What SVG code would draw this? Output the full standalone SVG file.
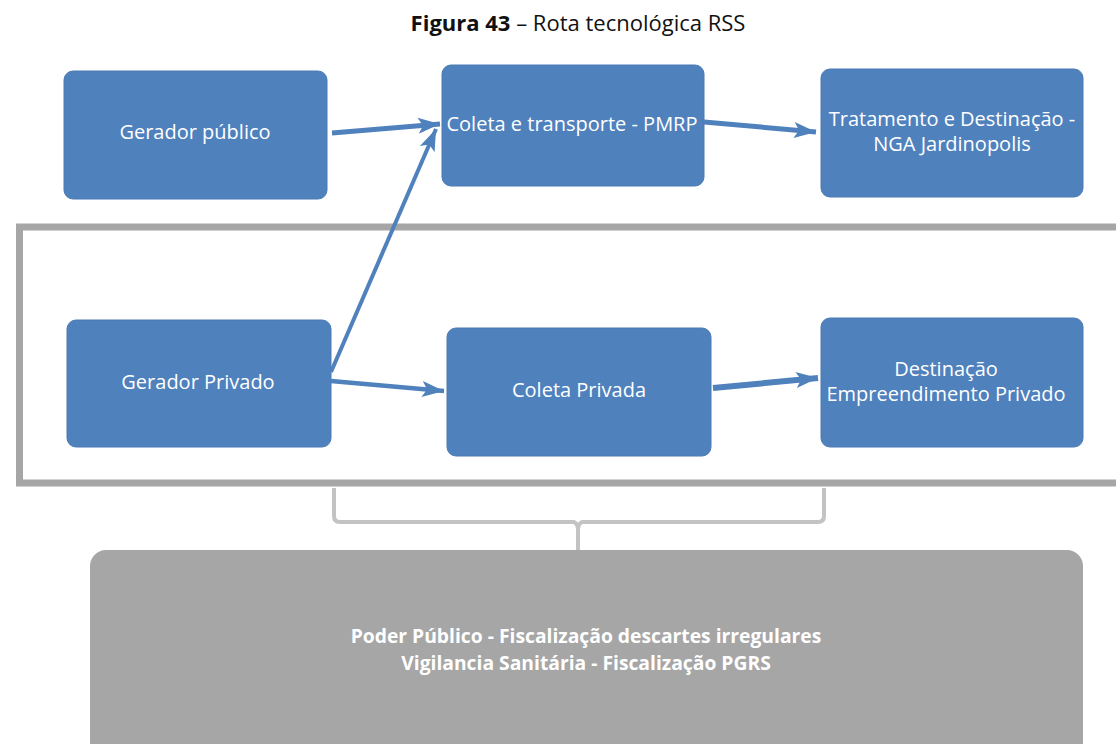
<svg xmlns="http://www.w3.org/2000/svg" width="1116" height="744" viewBox="0 0 1116 744">
<style>
.node{fill:#4f81bd;stroke:#4a7ab3;stroke-width:1}
.nt{font-family:"Open Sans","Liberation Sans",sans-serif;font-size:20px;fill:#ffffff;text-anchor:middle}
.bt{font-family:"Open Sans","Liberation Sans",sans-serif;font-size:19.3px;font-weight:bold;fill:#ffffff;text-anchor:middle}
.title{font-family:"Open Sans","Liberation Sans",sans-serif;font-size:22px;fill:#111111;text-anchor:middle}
.conn{stroke:#4f81bd;fill:none;stroke-linecap:butt}
</style>
<defs>
<marker id="ah" markerUnits="userSpaceOnUse" markerWidth="24" markerHeight="24" viewBox="0 0 24 24" refX="22" refY="12" orient="auto">
<path d="M0,4 L22,12 L0,20 L5,12 Z" fill="#4f81bd"/>
</marker>
</defs>
<rect width="1116" height="744" fill="#ffffff"/>
<text class="title" x="578" y="31"><tspan font-weight="bold">Figura 43</tspan> – Rota tecnológica RSS</text>
<g id="frame">
<rect x="19.5" y="227" width="1120" height="256" fill="none" stroke="#a6a6a6" stroke-width="7"/>
</g>
<g id="bracket">
<path d="M334,488 L334,516 Q334,522 340,522 L574,522 Q578,524 578,530 L578,552 M578,530 Q578,524 582,522 L818,522 Q824,522 824,516 L824,488" fill="none" stroke="#c3c3c3" stroke-width="4"/>
</g>
<g id="n-publico">
<rect class="node" x="64" y="71" width="263" height="128" rx="9"/>
<text class="nt" x="195" y="139">Gerador público</text>
</g>
<g id="n-coleta-transporte">
<rect class="node" x="442" y="65" width="262" height="121" rx="9"/>
<text class="nt" x="572" y="131">Coleta e transporte - PMRP</text>
</g>
<g id="n-tratamento">
<rect class="node" x="821" y="69" width="262" height="128" rx="9"/>
<text class="nt" x="952" y="126">Tratamento e Destinação -</text>
<text class="nt" x="952" y="151">NGA Jardinopolis</text>
</g>
<g id="n-privado">
<rect class="node" x="67" y="320" width="264" height="127" rx="9"/>
<text class="nt" x="198" y="389">Gerador Privado</text>
</g>
<g id="n-coleta-privada">
<rect class="node" x="447" y="328" width="264" height="128" rx="9"/>
<text class="nt" x="579" y="397">Coleta Privada</text>
</g>
<g id="n-destinacao">
<rect class="node" x="821" y="318" width="262" height="129" rx="9"/>
<text class="nt" x="946" y="376">Destinação</text>
<text class="nt" x="946" y="401">Empreendimento Privado</text>
</g>
<g id="n-poder">
<rect x="90" y="550" width="993" height="220" rx="16" fill="#a6a6a6"/>
<text class="bt" x="586" y="643">Poder Público - Fiscalização descartes irregulares</text>
<text class="bt" x="586" y="670">Vigilancia Sanitária - Fiscalização PGRS</text>
</g>
<g id="connectors">
<line class="conn" x1="332" y1="133" x2="440" y2="124" stroke-width="5" marker-end="url(#ah)"/>
<line class="conn" x1="704" y1="122" x2="816" y2="132" stroke-width="5" marker-end="url(#ah)"/>
<line class="conn" x1="331" y1="372" x2="436" y2="129" stroke-width="4" marker-end="url(#ah)"/>
<line class="conn" x1="331" y1="381" x2="444" y2="391" stroke-width="4.5" marker-end="url(#ah)"/>
<line class="conn" x1="713" y1="388" x2="818" y2="378" stroke-width="6" marker-end="url(#ah)"/>
</g>
</svg>
